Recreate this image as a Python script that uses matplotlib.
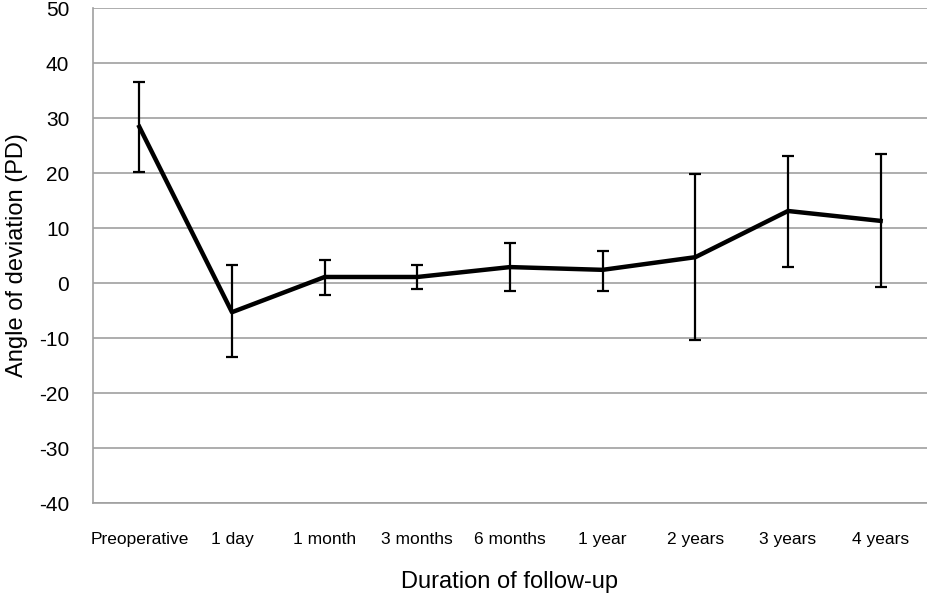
import matplotlib.pyplot as plt
import numpy as np

plt.rcParams['font.family'] = ['Liberation Sans', 'DejaVu Sans']
plt.rcParams['axes.unicode_minus'] = False

# follow-up time points
labels = ["Preoperative", "1 day", "1 month", "3 months", "6 months",
          "1 year", "2 years", "3 years", "4 years"]
mean_vals = [28.4, -5.3, 1.1, 1.1, 2.9, 2.4, 4.7, 13.1, 11.3]
upper_vals = [36.6, 3.2, 4.2, 3.2, 7.3, 5.9, 19.8, 23.1, 23.5]
lower_vals = [20.2, -13.5, -2.1, -1.1, -1.5, -1.5, -10.4, 2.9, -0.7]

x = np.arange(len(labels))
mean = np.array(mean_vals)
err = [mean - np.array(lower_vals), np.array(upper_vals) - mean]

fig = plt.figure(figsize=(9.27, 5.96), dpi=100)
ax = fig.add_axes([0.1003, 0.156, 0.8997, 0.8305])

ax.errorbar(x, mean, yerr=err, fmt="none", ecolor="black", elinewidth=1.6,
            capsize=4, capthick=1.6, zorder=3)
ax.plot(x, mean, color="black", linewidth=3.2, zorder=4)

ax.set_xlim(-0.5, len(labels) - 0.5)
ax.set_ylim(-40, 50)
ax.set_yticks(np.arange(-40, 51, 10))
ax.set_xticks(x)
ax.set_xticklabels(labels, fontsize=12.5)
ax.tick_params(axis="y", labelsize=15, length=0, pad=17)
ax.tick_params(axis="x", length=0, pad=21)

ax.grid(axis="y", color="#a0a0a0", linewidth=1.2)
ax.set_axisbelow(True)
for side in ["top", "right"]:
    ax.spines[side].set_visible(False)
ax.spines["left"].set_color("#a0a0a0")
ax.spines["bottom"].set_color("#a0a0a0")
ax.spines["left"].set_linewidth(1.2)
ax.spines["bottom"].set_linewidth(1.2)

ax.set_ylabel("Angle of deviation (PD)", fontsize=17, labelpad=8)
ax.set_xlabel("Duration of follow-up", fontsize=17, labelpad=17)

fig.savefig("out.png", dpi=100)
